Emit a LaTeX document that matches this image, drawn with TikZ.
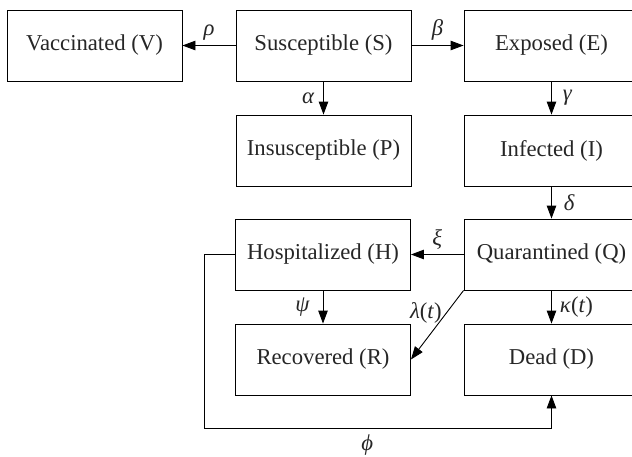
\documentclass[tikz,border=0pt]{standalone}
\usepackage{fontspec}
\setmainfont{Liberation Serif}
\usetikzlibrary{arrows.meta,calc}
\begin{document}
\begin{tikzpicture}[x=1pt,y=-1pt,
  box/.style={draw,line width=0.9pt,minimum width=175pt,minimum height=71pt,
    inner sep=0pt,font=\fontsize{22.7}{25}\selectfont,text=black!85},
  arr/.style={draw,line width=0.9pt,-{Triangle[length=13pt,width=9.5pt]}},
  lab/.style={font=\fontsize{22.7}{25}\selectfont\itshape,text=black!85,inner sep=3pt}]
\useasboundingbox (0,0) rectangle (632,456);
% compartments
\node[box] (V) at (94.5,45.5) {Vaccinated (V)};
\node[box] (S) at (323.5,45.5) {Susceptible (S)};
\node[box] (E) at (551.5,45.5) {Exposed (E)};
\node[box] (P) at (323.5,150.5) {Insusceptible (P)};
\node[box] (I) at (551.5,150.5) {Infected (I)};
\node[box] (H) at (323,254.5) {Hospitalized (H)};
\node[box] (Q) at (551.5,254.5) {Quarantined (Q)};
\node[box] (R) at (323,359.5) {Recovered (R)};
\node[box] (D) at (551.5,359.5) {Dead (D)};
% transitions
\draw[arr] (S) -- node[lab,above,yshift=2pt] {ρ} (V);
\draw[arr] (S) -- node[lab,above,yshift=2pt] {β} (E);
\draw[arr] (S) -- node[lab,left,xshift=-6pt] {α} (P);
\draw[arr] (E) -- node[lab,right,xshift=8pt] {γ} (I);
\draw[arr] (I) -- node[lab,right,xshift=9pt] {δ} (Q);
\draw[arr] (Q) -- node[lab,above,yshift=2pt] {ξ} (H);
\draw[arr] (H) -- node[lab,left,xshift=-10pt] {ψ} (R);
\draw[arr] (Q) -- node[lab,right,xshift=5pt] {κ\textup{(}t\textup{)}} (D);
\draw[arr] (Q.south west) -- node[lab,left,pos=0.33,xshift=-1pt] {λ\textup{(}t\textup{)}} (R.east);
\coordinate (h1) at ($(H.west)+(-31,0)$);
\coordinate (h2) at (h1 |- 0,428.7);
\coordinate (h3) at (D.south |- 0,428.7);
\draw[arr] (H.west) -- (h1) -- (h2) -- node[lab,below,pos=0.47,yshift=-3pt] {ϕ} (h3) -- (D.south);
\end{tikzpicture}
\end{document}
